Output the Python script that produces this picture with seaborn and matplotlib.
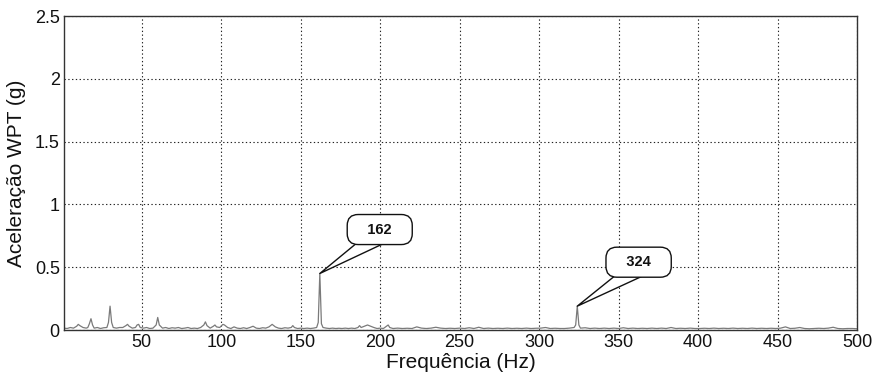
import matplotlib
matplotlib.use("Agg")
import matplotlib.pyplot as plt
import seaborn as sns
import pandas as pd

freq_hz = [1, 3, 5, 7, 9, 10, 11, 13, 15, 16, 17, 18, 19, 20, 22, 24, 26, 28, 29, 30, 31, 32, 34, 36, 38, 40, 41, 42, 44, 46, 47, 48, 49, 51, 53, 55, 57, 59, 60, 61, 63,
           65, 67, 69, 71, 73, 75, 77, 79, 81, 83, 85, 87, 89, 90, 91, 93, 95, 96, 97, 99, 101, 102, 104, 106, 108, 110, 112, 114, 116, 118, 120, 122, 124, 126, 128, 130, 132, 134, 136, 138, 140, 142, 144, 145, 146, 148, 150, 152, 154, 156, 158, 160, 161, 162, 163, 164,
           166, 168, 170, 172, 174, 176, 178, 180, 182, 184, 186, 187, 188, 190, 192, 194, 196, 198, 200, 202, 204, 205, 206, 208, 211, 214, 217, 220, 223, 226, 229, 232, 235, 238, 241, 244, 247, 250, 253, 256, 259, 262, 265, 268, 271, 274, 277, 280, 283, 286, 289, 292, 295, 298, 301, 304, 307, 310, 313, 316, 319, 322, 323, 324, 325, 326,
           329, 332, 335, 338, 341, 344, 347, 350, 353, 356, 359, 362, 365, 368, 371, 374, 377, 380, 383, 386, 389, 392, 395, 398, 401, 404, 407, 410, 413, 416, 419, 422, 425, 428, 431, 434, 437, 440, 443, 446, 449, 452, 455, 458, 461, 464, 467, 470, 473, 476, 479, 482, 485, 488, 491, 494, 497, 500]

accel_g = [0.015, 0.012, 0.02, 0.015, 0.03, 0.045, 0.035, 0.02, 0.015, 0.02, 0.05, 0.09, 0.04, 0.015, 0.02, 0.012, 0.018, 0.02, 0.06, 0.19, 0.06, 0.02, 0.015, 0.02, 0.02, 0.035, 0.045, 0.03, 0.015, 0.02, 0.04, 0.045, 0.02, 0.015, 0.02, 0.012, 0.015, 0.04, 0.1, 0.04, 0.015,
           0.02, 0.012, 0.018, 0.015, 0.02, 0.012, 0.015, 0.02, 0.012, 0.015, 0.012, 0.02, 0.04, 0.065, 0.035, 0.015, 0.03, 0.04, 0.025, 0.02, 0.045, 0.04, 0.02, 0.012, 0.025, 0.015, 0.012, 0.018, 0.012, 0.02, 0.03, 0.015, 0.012, 0.018, 0.015, 0.025, 0.045, 0.025, 0.015, 0.012, 0.018, 0.015, 0.02, 0.035, 0.02, 0.012, 0.015, 0.012, 0.015, 0.012, 0.015, 0.02, 0.06, 0.45, 0.05, 0.02,
           0.015, 0.012, 0.015, 0.012, 0.014, 0.012, 0.015, 0.012, 0.015, 0.012, 0.02, 0.035, 0.02, 0.03, 0.04, 0.03, 0.02, 0.012, 0.015, 0.012, 0.03, 0.04, 0.02, 0.012, 0.015, 0.012, 0.014, 0.012, 0.025, 0.015, 0.012, 0.015, 0.022, 0.015, 0.012, 0.014, 0.012, 0.015, 0.012, 0.018, 0.012, 0.022, 0.012, 0.015, 0.012, 0.014, 0.012, 0.015, 0.012, 0.014, 0.012, 0.015, 0.012, 0.014, 0.015, 0.02, 0.012, 0.014, 0.012, 0.012, 0.015, 0.02, 0.04, 0.19, 0.04, 0.015,
           0.018, 0.012, 0.015, 0.012, 0.015, 0.012, 0.015, 0.012, 0.018, 0.012, 0.015, 0.012, 0.014, 0.012, 0.015, 0.012, 0.015, 0.012, 0.02, 0.012, 0.014, 0.012, 0.015, 0.012, 0.012, 0.014, 0.012, 0.015, 0.012, 0.014, 0.012, 0.015, 0.012, 0.014, 0.012, 0.015, 0.012, 0.014, 0.012, 0.014, 0.012, 0.015, 0.025, 0.012, 0.014, 0.02, 0.012, 0.01, 0.012, 0.014, 0.012, 0.015, 0.022, 0.012, 0.01, 0.012, 0.012, 0.01]

x_ticks = [50, 100, 150, 200, 250, 300, 350, 400, 450, 500]
y_ticks = [0, 0.5, 1, 1.5, 2, 2.5]
y_tick_labels = ["0", "0.5", "1", "1.5", "2", "2.5"]

callout_labels = ["162", "324"]
callout_targets = [(162, 0.45), (324, 0.19)]
callout_text_pos = [(199.7, 0.80), (362.6, 0.54)]
callout_tail_shift = 6  # Hz, wedge root offset inside the box

sns.set_theme(style="white")
plt.rcParams["font.family"] = ["Liberation Sans", "DejaVu Sans"]

fig = plt.figure(figsize=(8.75, 3.76), dpi=100)
ax = fig.add_axes([0.0731, 0.1223, 0.9063, 0.8351])

df = pd.DataFrame({"f": freq_hz, "a": accel_g})
sns.lineplot(data=df, x="f", y="a", ax=ax, color="#7a7a7a", linewidth=0.9,
             estimator=None, sort=False)

ax.set_xlim(1, 500)
ax.set_ylim(0, 2.5)
ax.set_xticks(x_ticks)
ax.set_xticklabels([str(t) for t in x_ticks], fontsize=13)
ax.set_yticks(y_ticks)
ax.set_yticklabels(y_tick_labels, fontsize=13)
ax.grid(True, linestyle=(0, (1.2, 2.2)), color="#222222", linewidth=0.8)
ax.tick_params(direction="in", length=4, color="#333333", pad=3, labelcolor="#111111")
for s in ax.spines.values():
    s.set_color("#333333")
    s.set_linewidth(1.0)

ax.set_xlabel("Frequência (Hz)", fontsize=15, labelpad=1, color="#111111")
ax.set_ylabel("Aceleração WPT (g)", fontsize=15, labelpad=6, color="#111111")

for lab, tgt, pos in zip(callout_labels, callout_targets, callout_text_pos):
    root = (pos[0] + callout_tail_shift, pos[1])
    ax.annotate("", xy=tgt, xytext=root, fontsize=11, zorder=4,
                arrowprops=dict(arrowstyle="wedge,tail_width=1.35,shrink_factor=0.5",
                                fc="white", ec="#111111", lw=1.0,
                                shrinkA=0, shrinkB=0))
    ax.text(pos[0], pos[1], "   " + lab + "   ", ha="center", va="center",
            fontsize=10.5, fontweight="bold", color="#111111", zorder=6,
            bbox=dict(boxstyle="round,pad=0.55,rounding_size=0.75", fc="white", ec="#111111", lw=1.0))

fig.savefig("out.png", dpi=100)
